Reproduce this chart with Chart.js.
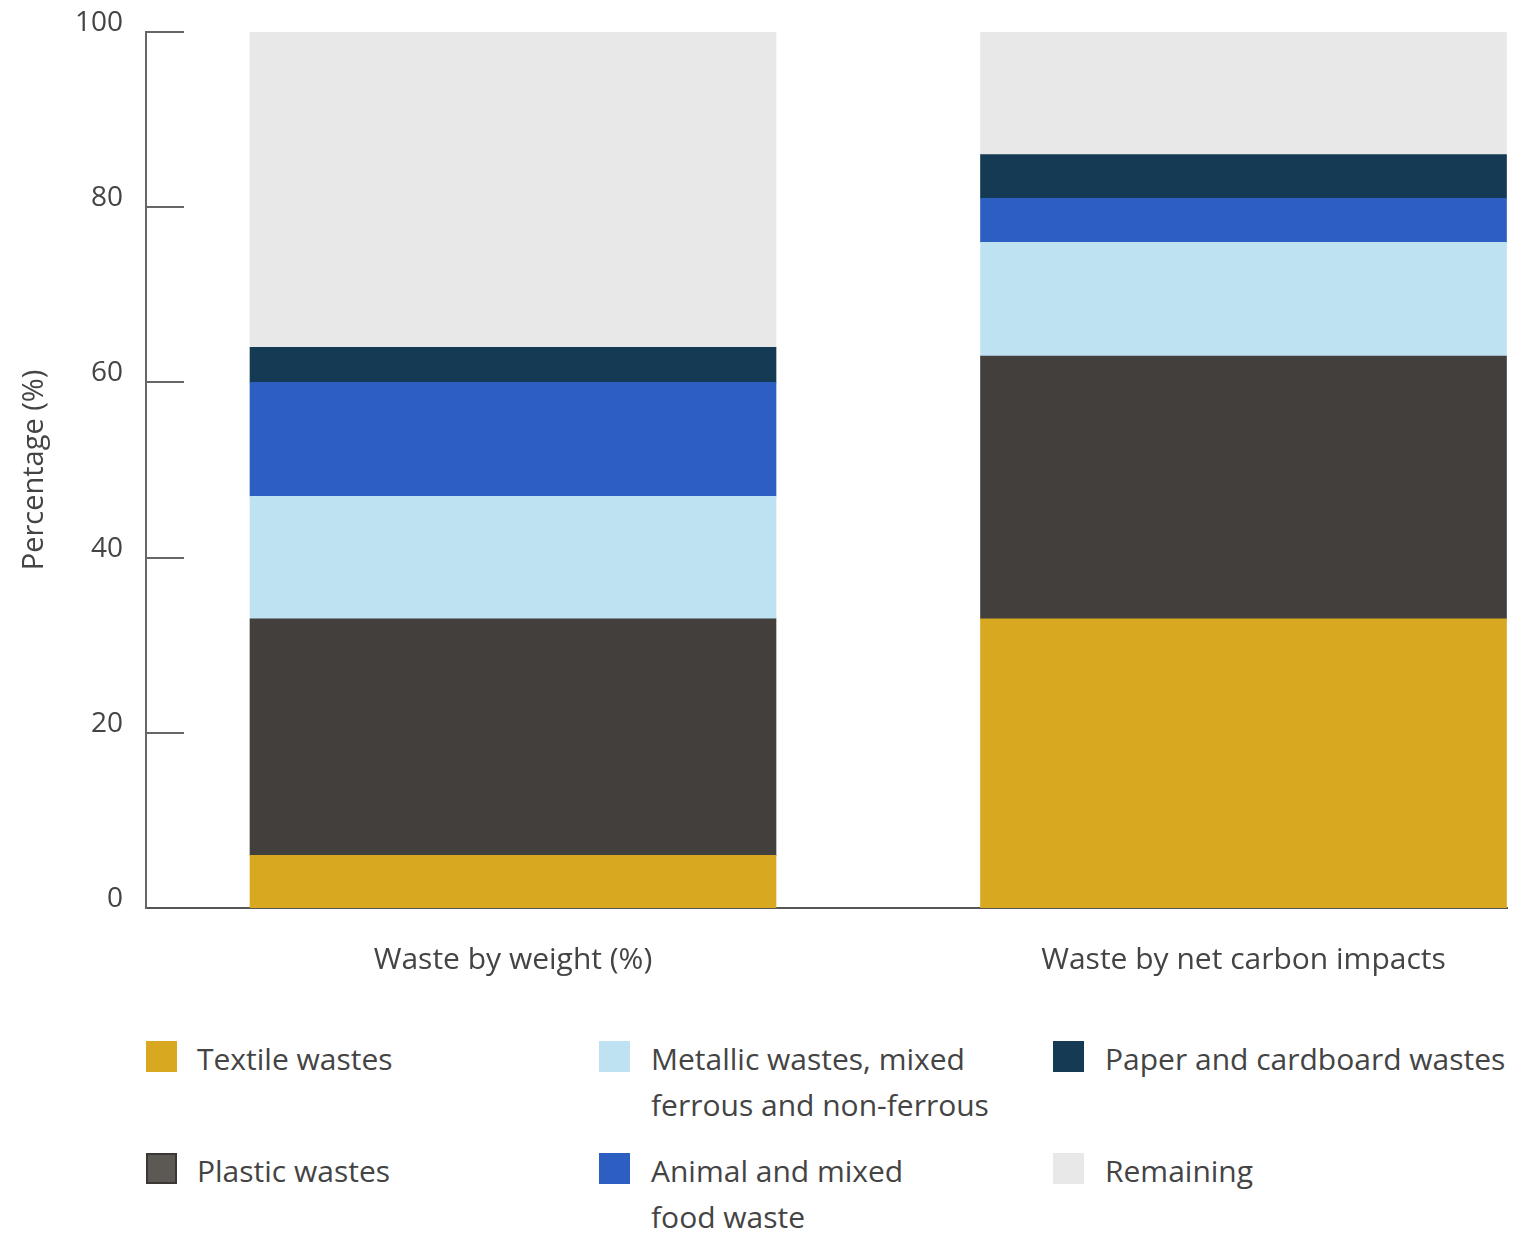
<!DOCTYPE html>
<html>
<head>
<meta charset="utf-8">
<script src="https://cdn.jsdelivr.net/npm/chart.js@4.4.1/dist/chart.umd.min.js"></script>
<style>
  html, body { margin: 0; padding: 0; background: #fff; }
  #wrap { position: relative; width: 1513px; height: 1237px; font-family: "Open Sans", "Noto Sans", sans-serif; color: #444; }
  #c { position: absolute; left: 0; top: 0; }
  .sq { position: absolute; width: 31px; height: 31px; box-sizing: border-box; }
  .tx { position: absolute; font-size: 30px; line-height: 46px; white-space: nowrap; color: #444; }
</style>
</head>
<body>
<div id="wrap">
  <canvas id="c" width="1513" height="1000" style="width:1513px;height:1000px"></canvas>
  <div id="legend"></div>
</div>
<script>
const categories = ['Waste by weight (%)', 'Waste by net carbon impacts'];
const seriesNames = ['Textile wastes', 'Plastic wastes', 'Metallic wastes, mixed ferrous and non-ferrous', 'Animal and mixed food waste', 'Paper and cardboard wastes', 'Remaining'];
const legendLines = [['Textile wastes'], ['Plastic wastes'], ['Metallic wastes, mixed', 'ferrous and non-ferrous'], ['Animal and mixed', 'food waste'], ['Paper and cardboard wastes'], ['Remaining']];
const textile = [6, 33];
const plastic = [27, 30];
const metallic = [14, 13];
const animal = [13, 5];
const paper = [4, 5];
const remaining = [36, 14];
const yTicks = [0, 20, 40, 60, 80, 100];
const colors = ['#D8A821', '#433F3C', '#BEE2F2', '#2D5FC2', '#143A54', '#E8E8E8'];

const seriesValues = [textile, plastic, metallic, animal, paper, remaining];
const FONT = 'Open Sans';

const datasets = seriesValues.map((vals, i) => ({
  label: seriesNames[i],
  data: vals.map((v, j) => ({ x: j, y: v })),
  backgroundColor: colors[i],
  borderWidth: 0,
  barThickness: 526
}));

const innerTicks = {
  id: 'innerTicks',
  afterDraw(chart) {
    const ctx = chart.ctx;
    const y = chart.scales.y;
    const left = chart.chartArea.left;
    ctx.save();
    ctx.strokeStyle = '#666';
    ctx.lineWidth = 2;
    y.ticks.forEach(t => {
      if (t.value === 0) return;
      const py = Math.round(y.getPixelForValue(t.value));
      ctx.beginPath();
      ctx.moveTo(left, py);
      ctx.lineTo(left + 38, py);
      ctx.stroke();
    });
    ctx.restore();
  }
};

const chart = new Chart(document.getElementById('c'), {
  type: 'bar',
  data: { datasets },
  plugins: [innerTicks],
  options: {
    responsive: false,
    animation: false,
    layout: { padding: { top: 32, right: 6, left: 0, bottom: 0 } },
    plugins: { legend: { display: false }, tooltip: { enabled: false } },
    scales: {
      x: {
        type: 'linear',
        stacked: true,
        offset: false,
        min: -0.5024,
        max: 1.3607,
        grid: { display: false, drawTicks: false, offset: false },
        border: { display: true, color: '#555', width: 2 },
        afterBuildTicks(scale) { scale.ticks = [{ value: 0 }, { value: 1 }]; },
        afterFit(scale) { scale.height = 92; scale.paddingLeft = 0; scale.paddingRight = 0; },
        ticks: {
          padding: 34,
          color: '#444',
          font: { family: FONT, size: 30 },
          callback: (v) => categories[v]
        }
      },
      y: {
        stacked: true,
        min: 0,
        max: 100,
        afterBuildTicks(scale) { scale.ticks = yTicks.map(v => ({ value: v })); },
        afterFit(scale) { scale.width = 146; scale.paddingTop = 0; scale.paddingBottom = 0; },
        grid: { display: false, drawTicks: false },
        border: { display: true, color: '#666', width: 2 },
        ticks: {
          padding: 23,
          labelOffset: -9,
          color: '#444',
          font: { family: FONT, size: 28 }
        },
        title: {
          display: true,
          text: 'Percentage (%)',
          color: '#444',
          font: { family: FONT, size: 29 },
          padding: { top: 17, bottom: 0 }
        }
      }
    }
  }
});

// HTML legend (column-major, 3 columns x 2 rows)
const colLeft = [146, 599, 1053];
const colText = [197, 651, 1105];
const rowTop = [1041, 1153];
const legend = document.getElementById('legend');
chart.data.datasets.forEach((ds, i) => {
  const col = Math.floor(i / 2), row = i % 2;
  const sq = document.createElement('div');
  sq.className = 'sq';
  sq.style.left = colLeft[col] + 'px';
  sq.style.top = rowTop[row] + 'px';
  sq.style.background = ds.backgroundColor;
  if (i === 1) { sq.style.background = '#5C5854'; sq.style.border = '2px solid #3A3735'; }
  legend.appendChild(sq);
  const tx = document.createElement('div');
  tx.className = 'tx';
  tx.style.left = colText[col] + 'px';
  tx.style.top = (rowTop[row] + 15 + 3 - 23) + 'px';
  tx.innerHTML = legendLines[i].join('<br>');
  legend.appendChild(tx);
});
</script>
</body>
</html>
